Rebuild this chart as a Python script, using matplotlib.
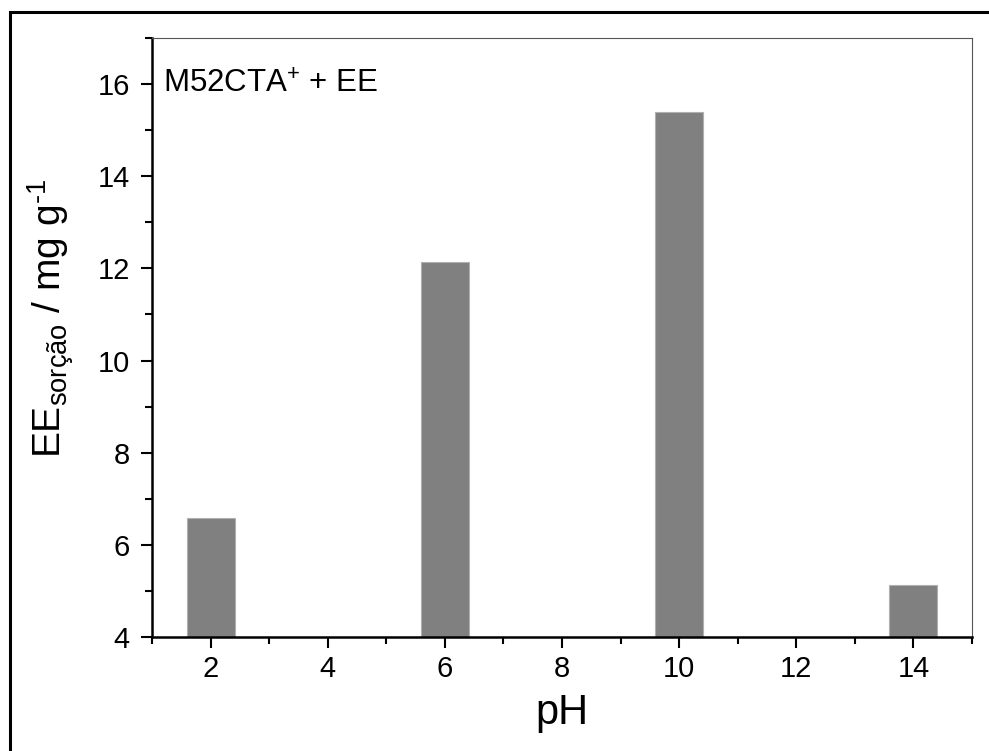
import matplotlib
matplotlib.use('Agg')
import matplotlib.pyplot as plt
from matplotlib.patches import Rectangle

plt.rcParams['font.family'] = ['Liberation Sans', 'DejaVu Sans']
plt.rcParams['mathtext.fontset'] = 'custom'
plt.rcParams['mathtext.rm'] = 'Liberation Sans'
plt.rcParams['mathtext.it'] = 'Liberation Sans:italic'
plt.rcParams['mathtext.default'] = 'regular'

# data
ph = [2, 6, 10, 14]
sorcao = [6.58, 12.14, 15.39, 5.12]
xticks = [2, 4, 6, 8, 10, 12, 14]
yticks = [4, 6, 8, 10, 12, 14, 16]

fig = plt.figure(figsize=(9.89, 7.51), dpi=100)
ax = fig.add_axes([0.1537, 0.1518, 0.8291, 0.7976])

ax.bar(ph, sorcao, width=0.82, bottom=0, color='#808080',
       edgecolor='#b0b0b0', linewidth=0.8, zorder=2)

ax.set_xlim(1, 15)
ax.set_ylim(4, 17)
ax.set_xticks(xticks)
ax.set_yticks(yticks)
ax.set_xticks(range(1, 16, 2), minor=True)
ax.set_yticks(range(5, 18, 2), minor=True)
ax.tick_params(which='major', direction='out', length=8, width=1.5,
               labelsize=21, top=False, right=False, pad=5)
ax.tick_params(axis='y', which='major', pad=8)
ax.tick_params(which='minor', direction='out', length=5, width=1.5,
               top=False, right=False)

for s in ['left', 'bottom']:
    ax.spines[s].set_linewidth(1.8)
for s in ['top', 'right']:
    ax.spines[s].set_linewidth(0.8)
    ax.spines[s].set_color('#555555')

ax.set_xlabel('pH', fontsize=30)
ax.xaxis.set_label_coords(0.5, -0.093)
# short hyphen in the exponent, like the original
ax.set_ylabel('EE$_{sorção}$ / mg g$^{\u2010 1}$', fontsize=28)
ax.yaxis.set_label_coords(-0.093, 0.531)

ax.text(0.013, 0.923, r'M52CTA$^{+}$ + EE', transform=ax.transAxes,
        fontsize=22.5, ha='left', va='center')

# outer frame (only left and top visible in the reference)
fig.patches.append(Rectangle((0.0101, -0.05), 1.2, 1.0336, transform=fig.transFigure,
                             fill=False, edgecolor='black', linewidth=2.2))

fig.savefig('out.png', dpi=100)
